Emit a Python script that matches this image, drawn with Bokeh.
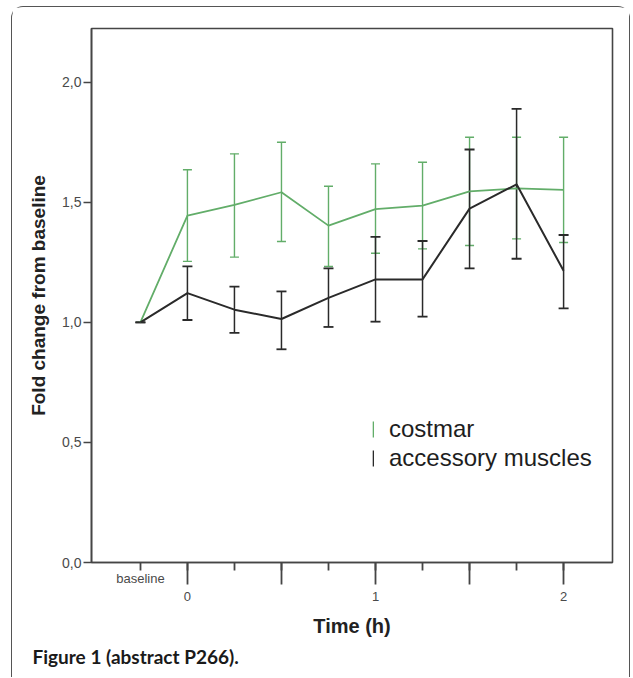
from bokeh.plotting import figure
from bokeh.models import (Range1d, FixedTicker, Whisker, TeeHead, ColumnDataSource,
                          Legend, LegendItem, Title)
from bokeh.embed import file_html
from bokeh.resources import INLINE

# ---- data ----
time_labels = ["baseline", "0", "0.25", "0.5", "0.75", "1", "1.25", "1.5", "1.75", "2"]
positions = list(range(len(time_labels)))

costmar_mean = [1.00, 1.445, 1.489, 1.542, 1.403, 1.472, 1.486, 1.546, 1.558, 1.552]
costmar_upper = [1.00, 1.636, 1.702, 1.750, 1.567, 1.660, 1.667, 1.771, 1.771, 1.771]
costmar_lower = [1.00, 1.254, 1.272, 1.337, 1.233, 1.288, 1.306, 1.320, 1.348, 1.333]

access_mean = [1.00, 1.122, 1.053, 1.014, 1.102, 1.179, 1.179, 1.474, 1.575, 1.215]
access_upper = [1.00, 1.233, 1.149, 1.129, 1.225, 1.356, 1.339, 1.720, 1.889, 1.364]
access_lower = [1.00, 1.010, 0.956, 0.888, 0.981, 1.003, 1.024, 1.225, 1.265, 1.058]

y_ticks = [0.0, 0.5, 1.0, 1.5, 2.0]
y_tick_labels = ["0,0", "0,5", "1,0", "1,5", "2,0"]
# shown tick texts per category ("baseline" on first line, hours on second line)
x_tick_texts = ["baseline", " \n0", "", "", "", " \n1", "", "", "", " \n2"]
x_long_ticks = [1, 3, 5, 7, 9]

GREEN = "#62ad69"
BLACK = "#2a2a2a"
AXIS = "#454545"
FONT = "Liberation Sans"

p = figure(width=619, height=671, output_backend="svg", toolbar_location=None,
           x_range=Range1d(-1.04, 10.04), y_range=Range1d(0, 2.224),
           min_border_left=79, min_border_right=19, min_border_top=21,
           min_border_bottom=116, title=None,
           x_axis_label="Time (h)", y_axis_label="Fold change from baseline")
p.margin = (6, 0, 0, 11)
p.styles = {"border": "1px solid #555", "border-bottom": "none",
            "border-radius": "12px 12px 0 0"}

p.xgrid.visible = False
p.ygrid.visible = False
p.outline_line_color = AXIS
p.outline_line_width = 1.6
p.background_fill_color = "white"
p.border_fill_color = "white"

# y axis
ya = p.yaxis[0]
ya.ticker = FixedTicker(ticks=y_ticks)
ya.major_label_overrides = {t: l for t, l in zip(y_ticks, y_tick_labels)}
ya.major_tick_out = 8
ya.major_tick_in = 0
ya.minor_tick_line_color = None
ya.axis_line_color = AXIS
ya.axis_line_width = 1.6
ya.major_tick_line_color = AXIS
ya.major_tick_line_width = 1.4
ya.major_label_text_font = FONT
ya.major_label_text_font_size = "14px"
ya.major_label_text_color = "#4a4a4a"
ya.major_label_standoff = 2
ya.axis_label_text_font = FONT
ya.axis_label_text_font_style = "bold"
ya.axis_label_text_font_size = "19px"
ya.axis_label_text_color = "#222222"
ya.axis_label_standoff = 10

# x axis: short major ticks at every category, long ticks every half hour
xa = p.xaxis[0]
xa.ticker = FixedTicker(ticks=positions, minor_ticks=x_long_ticks)
xa.major_label_overrides = {t: l for t, l in zip(positions, x_tick_texts)}
xa.major_tick_out = 8
xa.major_tick_in = 0
xa.minor_tick_out = 22
xa.minor_tick_in = 0
xa.axis_line_color = AXIS
xa.axis_line_width = 1.6
xa.major_tick_line_color = AXIS
xa.major_tick_line_width = 1.8
xa.minor_tick_line_color = AXIS
xa.minor_tick_line_width = 1.8
xa.major_label_text_font = FONT
xa.major_label_text_font_size = "13px"
xa.major_label_text_color = "#4a4a4a"
xa.major_label_standoff = -14
xa.axis_label_text_font = FONT
xa.axis_label_text_font_style = "bold"
xa.axis_label_text_font_size = "20px"
xa.axis_label_text_color = "#222222"
xa.axis_label_standoff = 8

# series
src_c = ColumnDataSource(dict(x=positions, mean=costmar_mean, upper=costmar_upper, lower=costmar_lower))
src_a = ColumnDataSource(dict(x=positions, mean=access_mean, upper=access_upper, lower=access_lower))

p.line("x", "mean", source=src_c, line_color=GREEN, line_width=1.8)
p.add_layout(Whisker(base="x", upper="upper", lower="lower", source=src_c,
                     line_color=GREEN, line_width=1.4,
                     upper_head=TeeHead(size=9, line_color=GREEN, line_width=1.4),
                     lower_head=TeeHead(size=9, line_color=GREEN, line_width=1.4)))

p.line("x", "mean", source=src_a, line_color=BLACK, line_width=2)
p.add_layout(Whisker(base="x", upper="upper", lower="lower", source=src_a,
                     line_color=BLACK, line_width=1.5,
                     upper_head=TeeHead(size=10, line_color=BLACK, line_width=1.8),
                     lower_head=TeeHead(size=10, line_color=BLACK, line_width=1.8)))

# legend icons: zero-width bars (invisible in the plot); the legend draws
# them as thin vertical strokes, like the error-bar symbols of the original
leg_c = p.vbar(x="x", top="upper", bottom="lower", width=0, source=src_c,
               fill_color=GREEN, line_color=None)
leg_a = p.vbar(x="x", top="upper", bottom="lower", width=0, source=src_a,
               fill_color=BLACK, line_color=None)
legend = Legend(items=[LegendItem(label="costmar", renderers=[leg_c]),
                       LegendItem(label="accessory muscles", renderers=[leg_a])],
                location=(281, 90), orientation="vertical",
                padding=0, margin=0, spacing=0,
                glyph_width=2, glyph_height=20, label_height=29,
                label_standoff=15,
                label_text_font=FONT, label_text_font_size="24px",
                label_text_color="#1e1e1e",
                border_line_color=None, background_fill_alpha=0)
p.add_layout(legend)

# figure caption
p.add_layout(Title(text="Figure 1 (abstract P266).", align="left", offset=-59,
                   standoff=7, text_font="Lato", text_font_style="bold",
                   text_font_size="19px", text_color="#1a1a1a"), "below")

open("out.html", "w").write(file_html(p, INLINE))
